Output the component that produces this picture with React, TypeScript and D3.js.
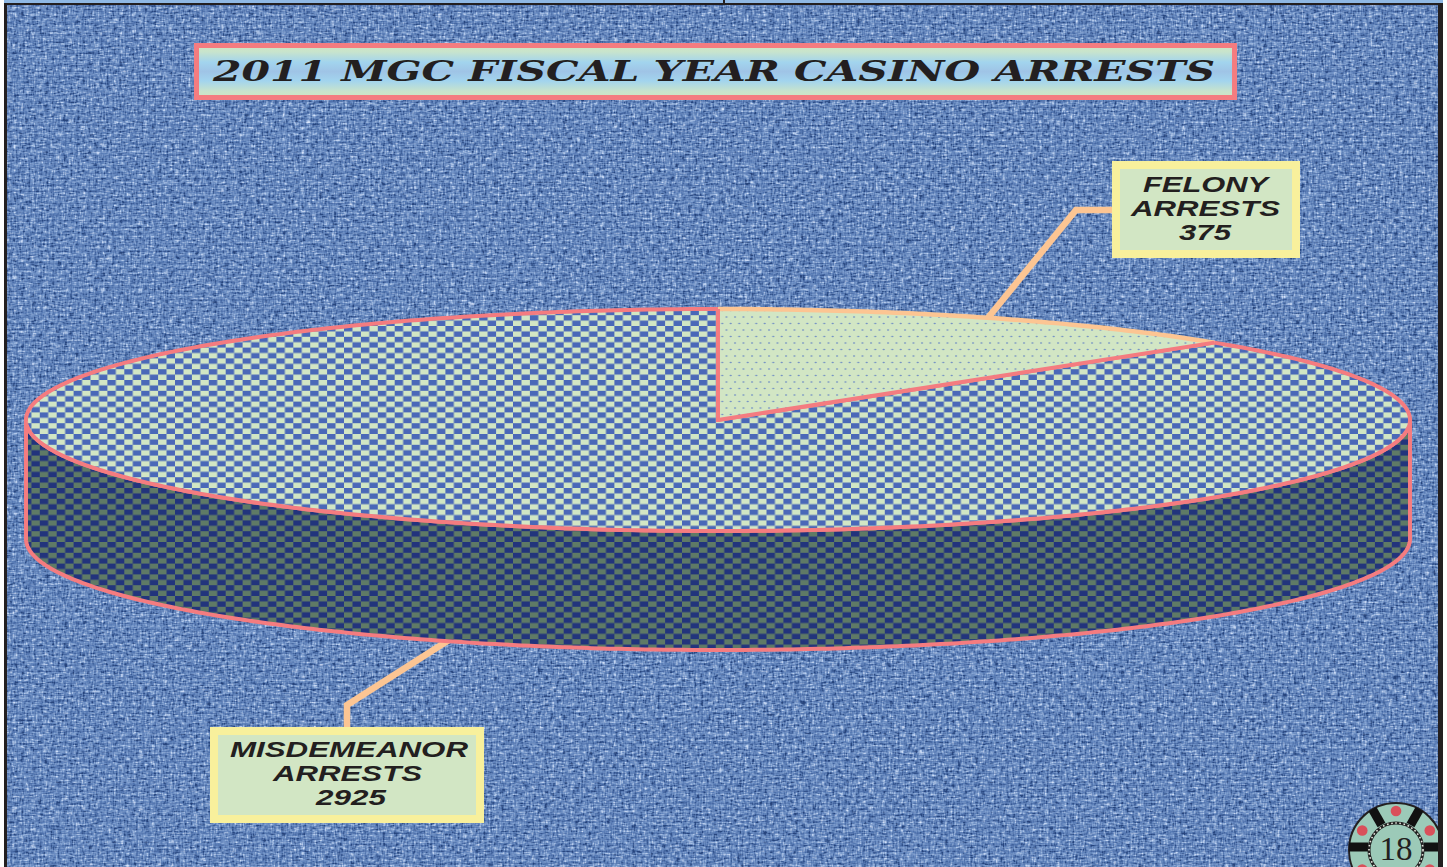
import React from "react";
import * as d3 from "d3";

const categories = ["FELONY", "MISDEMEANOR"];
const seriesValues = [375, 2925];
const labelSuffix = "ARRESTS";
const chartTitle = "2011 MGC FISCAL YEAR CASINO ARRESTS";
const pageNumber = "18";

const W = 1447, H = 867;
const cx = 718, cy = 420, rx = 692, ry = 111, depth = 119;
// the drawing's tilt widens the sweep near the top of the disc
const tilt = 0.0864;
const warp = (t: number) => t + tilt * Math.sin(2 * t);
const pt = (t: number): [number, number] => {
  const a = warp(t);
  return [cx + rx * Math.sin(a), cy - ry * Math.cos(a)];
};
const rawPt = (a: number): [number, number] => [cx + rx * Math.sin(a), cy - ry * Math.cos(a)];

const line = d3.line();
const pie = d3.pie<number>().sort(null).startAngle(0).endAngle(2 * Math.PI);
const arcs = pie(seriesValues);

const arcPts = (a0: number, a1: number) => {
  const n = Math.max(8, Math.ceil(Math.abs(a1 - a0) * 80));
  return d3.range(n + 1).map((i) => pt(a0 + ((a1 - a0) * i) / n));
};
const slicePath = (a0: number, a1: number) => line([[cx, cy], ...arcPts(a0, a1)])! + "Z";

const frontTop = d3.range(0, 241).map((i) => rawPt(Math.PI / 2 + (Math.PI * i) / 240));
const frontBottom = frontTop.map(([x, y]) => [x, y + depth] as [number, number]);
const sidePath = line([...frontBottom, ...frontTop.slice().reverse()])! + "Z";

const PINK = "#f47c80";
const PEACH = "#fcc593";
const PALE = "#d2e6c4";
const BOX = "#f8f09c";
const INK = "#231f20";
const LABEL_FONT = "'Liberation Sans', Arial, sans-serif";

const chipAngles = d3.range(6).map((i) => i * 60);

function Callout({ x, y, w, h, lines, widths, baselines, centers }: any) {
  return (
    <g>
      <rect x={x + 4} y={y + 4} width={w - 8} height={h - 8} fill={PALE} stroke={BOX} strokeWidth={8} />
      {lines.map((t: string, i: number) => (
        <text key={i} x={centers[i]} y={baselines[i]} textAnchor="middle" fontFamily={LABEL_FONT}
          fontStyle="italic" fontWeight="700" fontSize={21.5} fill={INK}
          textLength={widths[i]} lengthAdjust="spacingAndGlyphs">{t}</text>
      ))}
    </g>
  );
}

export default function App() {
  const [felony, misd] = arcs;
  return (
    <svg width={W} height={H} viewBox={`0 0 ${W} ${H}`} style={{ position: "absolute", left: 0, top: 0, display: "block" }}>
      <defs>
        <filter id="denim" x="0" y="0" width="1" height="1" colorInterpolationFilters="sRGB">
          <feTurbulence type="fractalNoise" baseFrequency="0.16 0.55" numOctaves={2} seed={4} result="h0" />
          <feColorMatrix in="h0" type="matrix" values="1 0 0 0 0 1 0 0 0 0 1 0 0 0 0 0 0 0 0 1" result="h" />
          <feTurbulence type="fractalNoise" baseFrequency="0.55 0.16" numOctaves={2} seed={9} result="v0" />
          <feColorMatrix in="v0" type="matrix" values="1 0 0 0 0 1 0 0 0 0 1 0 0 0 0 0 0 0 0 1" result="v" />
          <feComposite in="h" in2="v" operator="arithmetic" k1="0" k2="0.85" k3="0.65" k4="-0.25" />
          <feComponentTransfer>
            <feFuncR type="table" tableValues="0.16 0.16 0.34 0.47 0.72 0.88" />
            <feFuncG type="table" tableValues="0.26 0.28 0.48 0.60 0.80 0.92" />
            <feFuncB type="table" tableValues="0.47 0.50 0.71 0.80 0.93 1" />
          </feComponentTransfer>
        </filter>
        <pattern id="weave" patternUnits="userSpaceOnUse" width={6} height={6}>
          <rect x={0} y={4.6} width={6} height={1.4} fill="#1e3a74" fillOpacity={0.16} />
          <rect x={4.6} y={0} width={1.4} height={6} fill="#1e3a74" fillOpacity={0.1} />
          <rect x={0.5} y={1.6} width={3.6} height={1.1} fill="#dfe8f8" fillOpacity={0.2} />
        </pattern>
        <pattern id="checkTop" patternUnits="userSpaceOnUse" width={16.9} height={10.8} x={6} y={2}>
          <rect width={16.9} height={10.8} fill={PALE} />
          <rect width={8.45} height={5.4} fill="#4a68b8" />
          <rect x={8.45} y={5.4} width={8.45} height={5.4} fill="#4a68b8" />
        </pattern>
        <pattern id="checkSide" patternUnits="userSpaceOnUse" width={16.9} height={10.8} x={6} y={2}>
          <rect width={16.9} height={10.8} fill="#5f7a66" />
          <rect width={8.45} height={5.4} fill="#22347c" />
          <rect x={8.45} y={5.4} width={8.45} height={5.4} fill="#22347c" />
        </pattern>
        <pattern id="dots" patternUnits="userSpaceOnUse" width={8.5} height={13} x={2} y={2}>
          <rect width={8.5} height={13} fill={PALE} />
          <ellipse cx={2} cy={3} rx={1.1} ry={0.8} fill="#6f8cc4" />
          <ellipse cx={6.25} cy={9.5} rx={1.1} ry={0.8} fill="#6f8cc4" />
        </pattern>
        <linearGradient id="titleGrad" x1="0" y1="0" x2="0" y2="1">
          <stop offset="0" stopColor="#cfe5c4" />
          <stop offset="0.12" stopColor="#c8e4cc" />
          <stop offset="0.32" stopColor="#a2d4ee" />
          <stop offset="0.5" stopColor="#9fc4e6" />
          <stop offset="0.68" stopColor="#a2d4ee" />
          <stop offset="0.88" stopColor="#c8e4cc" />
          <stop offset="1" stopColor="#cfe5c4" />
        </linearGradient>
        <clipPath id="pageClip"><rect x={7} y={5} width={1431} height={862} /></clipPath>
      </defs>

      <rect width={W} height={H} fill="#ffffff" />
      <rect x={4} y={0} width={1439} height={3} fill="#8fb8e4" />
      <rect x={7} y={5} width={1431} height={862} fill="#5a7cb8" filter="url(#denim)" />
      <rect x={7} y={5} width={1431} height={862} fill="url(#weave)" />
      <rect x={4} y={3} width={3} height={864} fill={INK} />
      <rect x={1438} y={3} width={5} height={864} fill={INK} />
      <rect x={4} y={3} width={1439} height={2} fill={INK} />
      <rect x={723} y={0} width={2} height={4} fill={INK} />

      <rect x={196.5} y={45.5} width={1038} height={52} fill="url(#titleGrad)" stroke={PINK} strokeWidth={5} />
      <text x={714} y={81} textAnchor="middle" fontFamily="'DejaVu Serif', serif" fontWeight="700" fontStyle="italic"
        fontSize={27} fill={INK} textLength={1002} lengthAdjust="spacingAndGlyphs">{chartTitle}</text>

      <path d="M987,319 L1076,210 L1114,210" fill="none" stroke={PEACH} strokeWidth={6.5} />
      <path d="M449,640 L347,705 L347,729" fill="none" stroke={PEACH} strokeWidth={6.5} />

      <path d={sidePath} fill="url(#checkSide)" stroke={PINK} strokeWidth={4} strokeLinejoin="round" />
      <path d={slicePath(misd.startAngle, misd.endAngle)} fill="url(#checkTop)" stroke={PINK} strokeWidth={4} strokeLinejoin="round" />
      <path d={slicePath(felony.startAngle, felony.endAngle)} fill="url(#dots)" stroke="none" />
      <path d={line(arcPts(felony.startAngle, felony.endAngle))!} fill="none" stroke={PEACH} strokeWidth={4.5} />
      <path d={line([pt(felony.endAngle), [cx, cy], pt(felony.startAngle)])!} fill="none" stroke={PINK} strokeWidth={4} strokeLinejoin="miter" />

      <Callout x={1112} y={161} w={188} h={97} lines={[categories[0], labelSuffix, String(seriesValues[0])]}
        widths={[125, 149, 52]} baselines={[192, 216, 240]} centers={[1205.5, 1205.5, 1205]} />
      <Callout x={210} y={727} w={274} h={96} lines={[categories[1], labelSuffix, String(seriesValues[1])]}
        widths={[238, 149, 70]} baselines={[757, 781, 805]} centers={[349, 347.5, 351]} />

      <g clipPath="url(#pageClip)">
        <circle cx={1396} cy={850} r={47} fill="#9ccab8" stroke={INK} strokeWidth={2} />
        {chipAngles.map((a) => {
          const bar = a + 30;
          const r0 = (bar * Math.PI) / 180;
          return bar === 90 || bar === 270 ? null : (
            <line key={a} x1={1396 + 29 * Math.sin(r0)} y1={850 - 29 * Math.cos(r0)}
              x2={1396 + 47 * Math.sin(r0)} y2={850 - 47 * Math.cos(r0)} stroke="#111" strokeWidth={9} />
          );
        })}
        <line x1={1349} y1={847} x2={1368} y2={847} stroke="#111" strokeWidth={9} />
        <line x1={1424} y1={847} x2={1443} y2={847} stroke="#111" strokeWidth={9} />
        {chipAngles.map((a) => {
          const r0 = (a * Math.PI) / 180;
          return <circle key={a} cx={1396 + 39 * Math.sin(r0)} cy={850 - 39 * Math.cos(r0)} r={5.3} fill="#d9505a" />;
        })}
        <circle cx={1396} cy={850} r={27} fill="#9ccab8" stroke="#222" strokeWidth={3} />
        <circle cx={1396} cy={850} r={27} fill="none" stroke="#e8e8e0" strokeWidth={1.6} strokeDasharray="1.6 2.6" />
        <text x={1396} y={860} textAnchor="middle" fontFamily="'Liberation Serif', serif" fontSize={33} fill={INK}>{pageNumber}</text>
      </g>
    </svg>
  );
}
